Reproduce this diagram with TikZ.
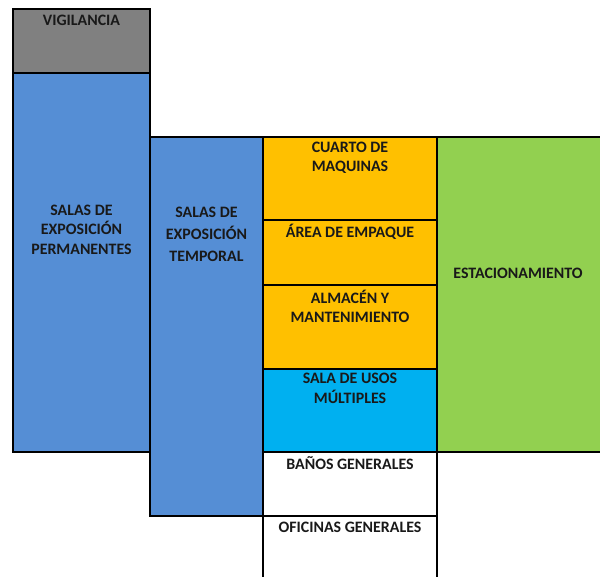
\documentclass[tikz,border=0pt]{standalone}
\usepackage{fontspec}
\setmainfont{Carlito}
\usepackage{tikz}
\usetikzlibrary{positioning}
\definecolor{gris}{HTML}{808080}
\definecolor{azul}{HTML}{558ED5}
\definecolor{naranja}{HTML}{FFC000}
\definecolor{celeste}{HTML}{00B0F0}
\definecolor{verde}{HTML}{92D050}
\tikzstyle{room} = [rectangle, draw=black, line width=2.4pt, inner sep=0pt, outer sep=0pt]
\tikzstyle{txt} = [inner sep=0pt, align=center, text=black!90, font=\bfseries\fontsize{15.9}{19.5}\selectfont]

\begin{document}
\begin{tikzpicture}
\useasboundingbox (0pt,0pt) rectangle (600pt,-577pt);
\clip (0pt,0pt) rectangle (600pt,-577pt);
% left column
\node (vig) [room, fill=gris, anchor=north west, minimum width=137pt, minimum height=64pt] at (13pt,-9pt) {};
\node (perm) [room, fill=azul, below=0pt of vig, minimum width=137pt, minimum height=379pt] {};
% middle columns
\node (temp) [room, fill=azul, anchor=north west, minimum width=113pt, minimum height=379pt] at (150pt,-137pt) {};
\node (cuarto) [room, fill=naranja, anchor=north west, minimum width=174pt, minimum height=83pt] at (temp.north east) {};
\node (empaque) [room, fill=naranja, below=0pt of cuarto, minimum width=174pt, minimum height=65pt] {};
\node (almacen) [room, fill=naranja, below=0pt of empaque, minimum width=174pt, minimum height=84pt] {};
\node (usos) [room, fill=celeste, below=0pt of almacen, minimum width=174pt, minimum height=83pt] {};
\node (banos) [room, fill=white, below=0pt of usos, minimum width=174pt, minimum height=64pt] {};
\node (oficinas) [room, fill=white, below=0pt of banos, minimum width=174pt, minimum height=80pt] {};
% right
\node (estac) [room, fill=verde, anchor=north west, minimum width=166pt, minimum height=315pt] at (cuarto.north east) {};
% labels
\node (vigtxt) [txt] at ([yshift=-11pt]vig.north) {VIGILANCIA};
\node (permtxt) [txt] at ([yshift=-156.5pt]perm.north) {SALAS DE\\EXPOSICIÓN\\PERMANENTES};
\node (temptxt) [txt, font=\bfseries\fontsize{15.9}{22}\selectfont] at ([yshift=-97pt]temp.north) {SALAS DE\\EXPOSICIÓN\\TEMPORAL};
\node (cuartotxt) [txt] at ([yshift=-21pt]cuarto.north) {CUARTO DE\\MAQUINAS};
\node (empaquetxt) [txt] at ([yshift=-12pt]empaque.north) {ÁREA DE EMPAQUE};
\node (almacentxt) [txt] at ([yshift=-21.5pt]almacen.north) {ALMACÉN Y\\MANTENIMIENTO};
\node (usostxt) [txt] at ([yshift=-19.5pt]usos.north) {SALA DE USOS\\MÚLTIPLES};
\node (banostxt) [txt] at ([yshift=-11pt]banos.north) {BAÑOS GENERALES};
\node (oficinastxt) [txt] at ([yshift=-11pt]oficinas.north) {OFICINAS GENERALES};
\node (estactxt) [txt] at ([xshift=-2pt,yshift=-136pt]estac.north) {ESTACIONAMIENTO};
\end{tikzpicture}
\end{document}
